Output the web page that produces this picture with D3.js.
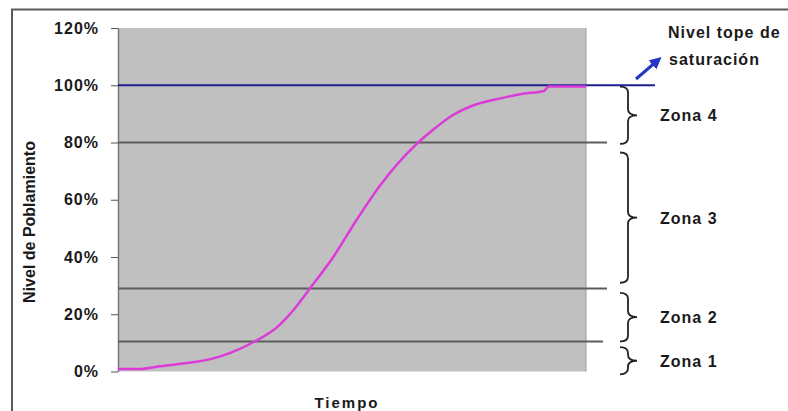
<!DOCTYPE html>
<html>
<head>
<meta charset="utf-8">
<script src="https://cdn.jsdelivr.net/npm/d3@7"></script>
<style>
  body { margin: 0; background: #fff; }
  text { font-family: "Liberation Sans", Arial, sans-serif; font-weight: bold; fill: #1a1a1a; }
</style>
</head>
<body>
<div id="chart"></div>
<script>
// Curva de poblamiento (tiempo en % del periodo, nivel en %)
const tiempo = [0, 5, 8, 13, 20, 24, 29, 34, 37.5, 41, 46, 51, 56, 63.5, 67, 71, 76, 82, 86.5, 91, 92, 100];
const nivel  = [0.9, 0.9, 1.6, 2.6, 4.4, 6.5, 10.3, 15.5, 21.5, 29, 40, 53, 65, 79, 84, 89, 93, 95.5, 97, 98, 99.6, 99.6];

// Limites horizontales de zonas
const limites = [10.5, 29, 80];
const saturacion = 100;

// Llaves de cada zona
const zonas = ["Zona 1", "Zona 2", "Zona 3", "Zona 4"];
const zonaBajo = [-1, 10.5, 31, 79.5];
const zonaAlto = [8.5, 27.5, 76.5, 99.5];

const yTicks = [0, 20, 40, 60, 80, 100, 120];

const W = 788, H = 411;
const plotL = 118, plotR = 586, plotT = 28, plotB = 371.5;

const svg = d3.select("#chart")
    .append("svg")
    .attr("width", W)
    .attr("height", H);

const x = d3.scaleLinear().domain([0, 100]).range([plotL, plotR]);
const y = d3.scaleLinear().domain([0, 120]).range([plotB, plotT]);

// outer frame
svg.append("path")
    .attr("d", `M12,${H} L12,9.5 L${W},9.5`)
    .attr("fill", "none")
    .attr("stroke", "#5a5a5a")
    .attr("stroke-width", 2);

// plot area
svg.append("rect")
    .attr("x", plotL).attr("y", plotT)
    .attr("width", plotR - plotL).attr("height", plotB - plotT)
    .attr("fill", "#c0c0c0");
svg.append("line")
    .attr("x1", plotR).attr("x2", plotR)
    .attr("y1", plotT).attr("y2", plotB)
    .attr("stroke", "#9a9a9a");

// y axis
const yAxis = svg.append("g")
    .attr("transform", `translate(${plotL},0)`)
    .call(d3.axisLeft(y).tickValues(yTicks).tickFormat(d => d + "%")
        .tickSize(7).tickSizeOuter(0).tickPadding(12));
yAxis.select(".domain").attr("stroke", "#7a7a7a").attr("stroke-width", 1.5);
yAxis.selectAll(".tick line").attr("stroke", "#555");
yAxis.selectAll(".tick text")
    .attr("fill", "#1a1a1a")
    .style("font-size", "16px")
    .style("letter-spacing", "1px")
    .style("font-family", "'Liberation Sans', Arial, sans-serif")
    .style("font-weight", "bold");

// zone lines
const lineEnd = [603, 607, 607];
svg.selectAll(".limite")
    .data(limites)
    .enter()
    .append("line")
    .attr("class", "limite")
    .attr("x1", plotL)
    .attr("x2", (d, i) => lineEnd[i])
    .attr("y1", d => y(d))
    .attr("y2", d => y(d))
    .attr("stroke", "#5c5c5c")
    .attr("stroke-width", 2);

// saturation line
svg.append("line")
    .attr("x1", plotL).attr("x2", 655)
    .attr("y1", y(saturacion)).attr("y2", y(saturacion))
    .attr("stroke", "#1e1e90")
    .attr("stroke-width", 2.2);

// curve
const curva = tiempo.map((t, i) => [t, nivel[i]]);
svg.append("path")
    .datum(curva)
    .attr("fill", "none")
    .attr("stroke", "#dc3ad9")
    .attr("stroke-width", 2.5)
    .attr("d", d3.line().curve(d3.curveMonotoneX).x(d => x(d[0])).y(d => y(d[1])));

// braces
function brace(x0, y1, y2) {
    const q = 8, w = 17, m = (y1 + y2) / 2;
    const r = Math.min(6, (y2 - y1) / 4);
    return `M${x0},${y1} Q${x0 + q},${y1} ${x0 + q},${y1 + r} L${x0 + q},${m - r} ` +
        `Q${x0 + q},${m} ${x0 + w},${m} Q${x0 + q},${m} ${x0 + q},${m + r} ` +
        `L${x0 + q},${y2 - r} Q${x0 + q},${y2} ${x0},${y2}`;
}
svg.selectAll(".llave")
    .data(zonas)
    .enter()
    .append("path")
    .attr("class", "llave")
    .attr("d", (d, i) => brace(620, y(zonaAlto[i]), y(zonaBajo[i])))
    .attr("fill", "none")
    .attr("stroke", "#222")
    .attr("stroke-width", 1.8);

svg.selectAll(".zona")
    .data(zonas)
    .enter()
    .append("text")
    .attr("class", "zona")
    .attr("x", 660)
    .attr("y", (d, i) => (y(zonaAlto[i]) + y(zonaBajo[i])) / 2 + 6)
    .style("font-size", "16px")
    .style("letter-spacing", "1px")
    .text(d => d);

// saturation note with arrow
svg.append("defs").append("marker")
    .attr("id", "head")
    .attr("viewBox", "0 0 10 10")
    .attr("refX", 5).attr("refY", 5)
    .attr("markerWidth", 4).attr("markerHeight", 4)
    .attr("orient", "auto")
    .append("path")
    .attr("d", "M0,0 L10,5 L0,10 Z")
    .attr("fill", "#2438c4");
svg.append("line")
    .attr("x1", 636).attr("y1", 79)
    .attr("x2", 657).attr("y2", 61)
    .attr("stroke", "#2438c4")
    .attr("stroke-width", 3)
    .attr("marker-end", "url(#head)");

svg.append("text")
    .attr("x", 668).attr("y", 38)
    .style("font-size", "16px")
    .style("letter-spacing", "1px")
    .text("Nivel tope de");
svg.append("text")
    .attr("x", 669).attr("y", 65)
    .style("font-size", "16px")
    .style("letter-spacing", "1px")
    .text("saturación");

// axis titles
svg.append("text")
    .attr("x", 347).attr("y", 408)
    .attr("text-anchor", "middle")
    .style("font-size", "15px")
    .style("letter-spacing", "2px")
    .text("Tiempo");

svg.append("text")
    .attr("transform", "translate(35,222) rotate(-90)")
    .attr("text-anchor", "middle")
    .style("font-size", "16px")
    .text("Nivel de Poblamiento");
</script>
</body>
</html>
